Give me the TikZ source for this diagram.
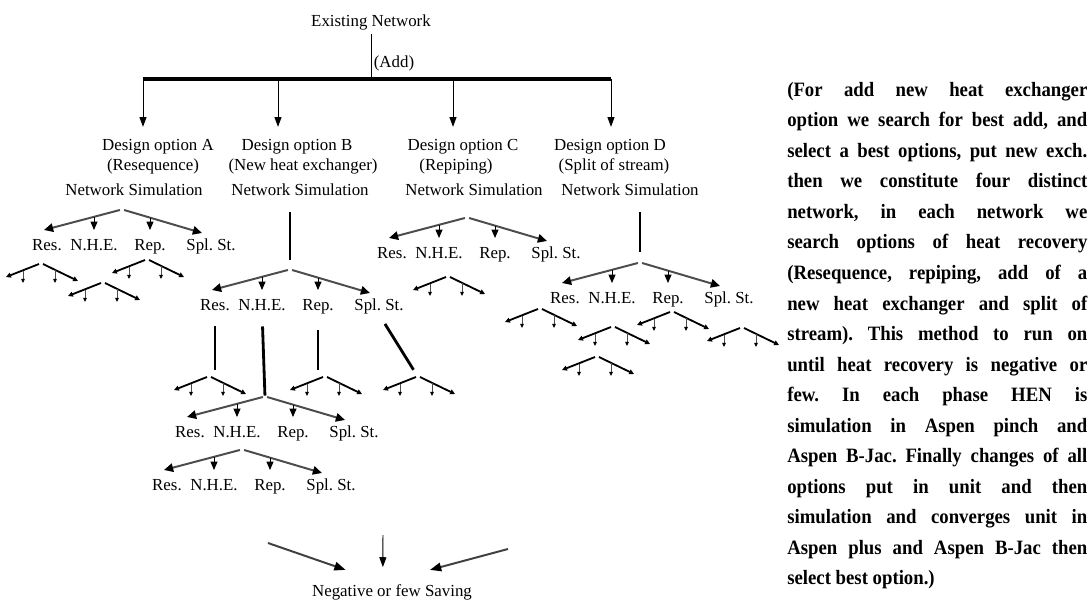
\documentclass[tikz,border=0pt]{standalone}
\usepackage{fontspec}
\setmainfont{Liberation Serif}
\newfontfamily\notefont{Liberation Serif}[FakeStretch=0.92]
\usetikzlibrary{arrows.meta}
\frenchspacing

\begin{document}
\begin{tikzpicture}[x=0.025cm, y=-0.025cm,
  every node/.style={inner sep=0pt, font=\fontsize{12}{14}\selectfont},
  drop/.style={line width=0.7pt, -{Triangle[length=7pt,width=5pt]}},
  branch/.style={black!70, line width=1.4pt, -{Triangle[length=6.5pt,width=6pt,color=black]}},
  pick/.style={line width=0.7pt, -{Triangle[length=6pt,width=5pt]}},
  stem/.style={line width=2pt},
  sink/.style={black!75, line width=1.4pt, -{Triangle[length=8pt,width=6pt,color=black]}},
  twigline/.style={line width=1.3pt, -{Triangle[length=3.5pt,width=3.5pt]}},
  twigdrop/.style={black!70, line width=0.6pt, -{Triangle[length=3pt,width=2.6pt,color=black]}},
  twig/.pic={
    \draw[twigline] (-2,0) -- (-35,13);
    \draw[twigline] (2,0) -- (37,17);
    \draw[twigdrop] (-18,7) -- (-18,19);
    \draw[twigdrop] (14,6) -- (14,19);
  },
  note/.style={text width=7.5cm, align=justify, font=\notefont\fontsize{14.5}{21.7}\selectfont\bfseries}]
  \useasboundingbox (0,0) rectangle (1092,603);

  \node (top) at (371,22) {Existing Network};
  \node (add) at (394,63) {(Add)};
  \coordinate (barA) at (143,79);
  \coordinate (barB) at (278,79);
  \coordinate (barC) at (453,79);
  \coordinate (barD) at (611,79);
  \draw[line width=0.7pt, shorten <=3pt] (top.south) -- (top.south |- barA);
  \draw[line width=2.6pt] (barA) -- (barD);

  \foreach \n/\xa/\xb/\xc/\sub in {A/158/153/134/Resequence, B/297/303/300/New heat exchanger,
      C/463/456/474/Repiping, D/610/614/630/Split of stream}{
    \node[anchor=base] (dsg\n) at (\xa,151) {Design option \n};
    \node[anchor=base] (sub\n) at (\xb,171) {(\sub)};
    \node[anchor=base] (sim\n) at (\xc,196) {Network Simulation};
    \draw[drop, shorten >=9pt] (bar\n) -- (bar\n |- dsg\n.north);
  }

  % one search step: Res. / N.H.E. / Rep. / Spl. St.
  \foreach \n/\x/\y in {A/122/210, B/290/270, C/467/218, D/640/263, E/265/397, F/242/450}{
    \begin{scope}[shift={(\x,\y)}, every node/.append style={anchor=base}]
      \coordinate (ap\n) at (0,0);
      \coordinate (tl\n) at (-78,20);
      \coordinate (tr\n) at (80,23);
      \node (res\n) at (-75,40.5) {Res.};
      \node (nhe\n) at (-28,40.5) {N.H.E.};
      \node (rep\n) at (28,40.5) {Rep.};
      \node (spl\n) at (89,40.5) {Spl. St.};
    \end{scope}
    \draw[branch] ([xshift=-1.5pt]ap\n) -- (tl\n);
    \draw[branch] ([xshift=1.5pt]ap\n) -- (tr\n);
    \draw[pick] ([yshift=-5pt]nhe\n.north |- ap\n) -- ([yshift=6.5pt]nhe\n.north);
    \draw[pick] ([yshift=-5.5pt]rep\n.north |- ap\n) -- ([yshift=6.5pt]rep\n.north);
  }

  \draw[stem, shorten <=11pt, shorten >=7pt] (apB |- simB.south) -- (apB);
  \draw[stem, shorten <=11pt, shorten >=8pt] (apD |- simD.south) -- (apD);

  \coordinate (tw1) at (209,377);
  \coordinate (tw2) at (325,377);
  \coordinate (tw3) at (418,377);
  \draw[stem, shorten <=11pt, shorten >=5pt] (resB.south) -- (resB.south |- tw1);
  \draw[stem, shorten <=11pt, shorten >=1pt] (nheB.south) -- (apE);
  \draw[stem, shorten <=11pt, shorten >=5pt] (repB.south) -- (repB.south |- tw2);
  \draw[stem, shorten <=8pt, shorten >=6pt] (splB.south) -- (tw3);

  \foreach \p in {(41,264), (103,283), (147,260), (448,277), (540,309), (613,327),
      (672,312), (742,328), (597,357), (tw1), (tw2), (tw3)}
    \pic at \p {twig};

  \node (neg) at (392,592) {Negative or few Saving};
  \coordinate (inL) at (268,543);
  \coordinate (inM) at (383,535);
  \coordinate (inR) at (508,549);
  \draw[sink] (inL) -- ([xshift=-33pt,yshift=10pt]neg.north);
  \draw[drop] (inM) -- ([xshift=-6.5pt,yshift=12pt]neg.north);
  \draw[sink] (inR) -- ([xshift=27pt,yshift=10pt]neg.north);

  \node[note, anchor=north west] (expl) at (787,82) {\noindent
    (For add new heat exchanger\linebreak
    option we search for best add, and\linebreak
    select a best options, put new exch.\linebreak
    then we constitute four distinct\linebreak
    network, in each network we\linebreak
    search options of heat recovery\linebreak
    (Resequence, repiping, add of a\linebreak
    new heat exchanger and split of\linebreak
    stream). This method to run on\linebreak
    until heat recovery is negative or\linebreak
    few. In each phase HEN is\linebreak
    simulation in Aspen pinch and\linebreak
    Aspen B-Jac. Finally changes of all\linebreak
    options put in unit and then\linebreak
    simulation and converges unit in\linebreak
    Aspen plus and Aspen B-Jac then\linebreak
    select best option.)};
\end{tikzpicture}
\end{document}
